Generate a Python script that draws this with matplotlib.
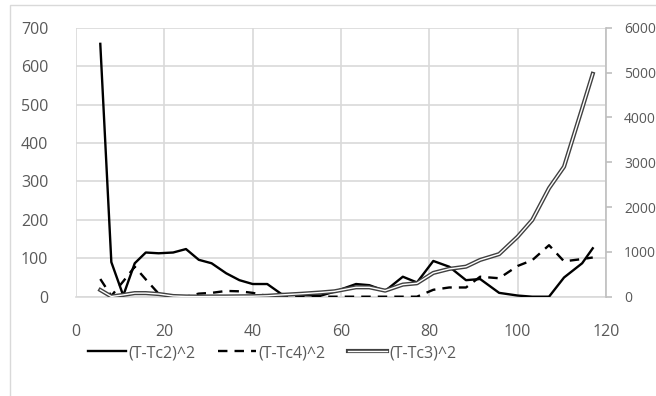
import matplotlib
matplotlib.use("Agg")
import matplotlib.pyplot as plt
from matplotlib.lines import Line2D
from matplotlib.patches import Rectangle

plt.rcParams['font.family'] = ['Open Sans', 'DejaVu Sans']

x = [5.5, 8.0, 10.7, 13.3, 15.8, 18.7, 22.0, 24.9, 27.8, 30.7, 34.0, 37.0, 40.0, 43.3,
     46.5, 51.0, 55.5, 58.5, 63.4, 66.4, 70.0, 74.0, 77.2, 80.9, 84.5, 88.3, 91.5,
     95.8, 100.0, 103.3, 107.1, 110.5, 114.6, 117.0]

tc2 = [658, 90, 3, 87, 115, 113, 115, 124, 96, 87, 61, 43, 33, 33,
       7, 4, 3, 13, 33, 30, 15, 52, 37, 93, 78, 43, 46,
       10, 3, 0, 0, 50, 87, 126]

tc4 = [46, 2, 40, 78, 45, 8, 0, 0, 8, 10, 15, 14, 10, 2,
       0, 0, 0, 0, 0, 0, 0, 0, 0, 18, 24, 24, 52,
       48, 80, 95, 134, 92, 98, 102]

tc3 = [150, 5, 40, 80, 80, 60, 15, 5, 3, 5, 5, 8, 10, 20,
       40, 65, 95, 120, 210, 210, 135, 270, 300, 530, 620, 670, 820,
       950, 1340, 1710, 2420, 2900, 4200, 4970]

labels = ["(T-Tc2)^2", "(T-Tc4)^2", "(T-Tc3)^2"]
xticks = [0, 20, 40, 60, 80, 100, 120]
yticks_left = [0, 100, 200, 300, 400, 500, 600, 700]
yticks_right = [0, 1000, 2000, 3000, 4000, 5000, 6000]

W, H = 656, 396
fig = plt.figure(figsize=(W / 100, H / 100), dpi=100)
fig.patches.append(Rectangle((10 / W, -0.1), 1.2, 1 - 5 / H + 0.1, transform=fig.transFigure,
                             fill=False, edgecolor='#d9d9d9', linewidth=1.0))

left, right, top, bottom = 76, 606, 27.7, 296.7
ax = fig.add_axes([left / W, 1 - bottom / H, (right - left) / W, (bottom - top) / H])
ax2 = ax.twinx()

grid_c = '#d9d9d9'
text_c = '#595959'

ax.set_xlim(0, 120)
ax.set_ylim(0, 700)
ax2.set_ylim(0, 6000)
ax.set_xticks(xticks)
ax.set_yticks(yticks_left)
ax2.set_yticks(yticks_right)
ax.grid(True, color=grid_c, linewidth=1.2)
ax.set_axisbelow(True)
for s in ['top', 'left', 'right']:
    ax.spines[s].set_visible(False)
ax.spines['bottom'].set_color(grid_c)
ax.spines['bottom'].set_linewidth(1.2)
for s in ['top', 'left', 'bottom']:
    ax2.spines[s].set_visible(False)
ax2.spines['right'].set_color('#bfbfbf')
ax2.spines['right'].set_linewidth(1.2)

ax.tick_params(axis='x', length=0, pad=20, labelsize=11.5, labelcolor=text_c)
ax.tick_params(axis='y', length=0, pad=20, labelsize=11.5, labelcolor=text_c)
ax2.tick_params(axis='y', length=4, width=1.2, color='#bfbfbf', pad=9, labelsize=10,
                labelcolor=text_c)

l1, = ax.plot(x, tc2, color='black', linewidth=1.7, solid_joinstyle='round', zorder=3)
l2, = ax.plot(x, tc4, color='black', linewidth=1.7, dashes=(4, 3), zorder=3)
l3a, = ax2.plot(x, tc3, color='#404040', linewidth=3.0, zorder=2)
l3b, = ax2.plot(x, tc3, color='white', linewidth=1.0, zorder=2)

fig.legend([l1, l2, (l3a, l3b)], labels, loc='center', bbox_to_anchor=(272 / W, 1 - 353 / H),
           ncol=3, frameon=False, fontsize=11.5, labelcolor=text_c,
           handlelength=2.4, handletextpad=0.15, columnspacing=1.4)

fig.savefig('out.png', dpi=100)
